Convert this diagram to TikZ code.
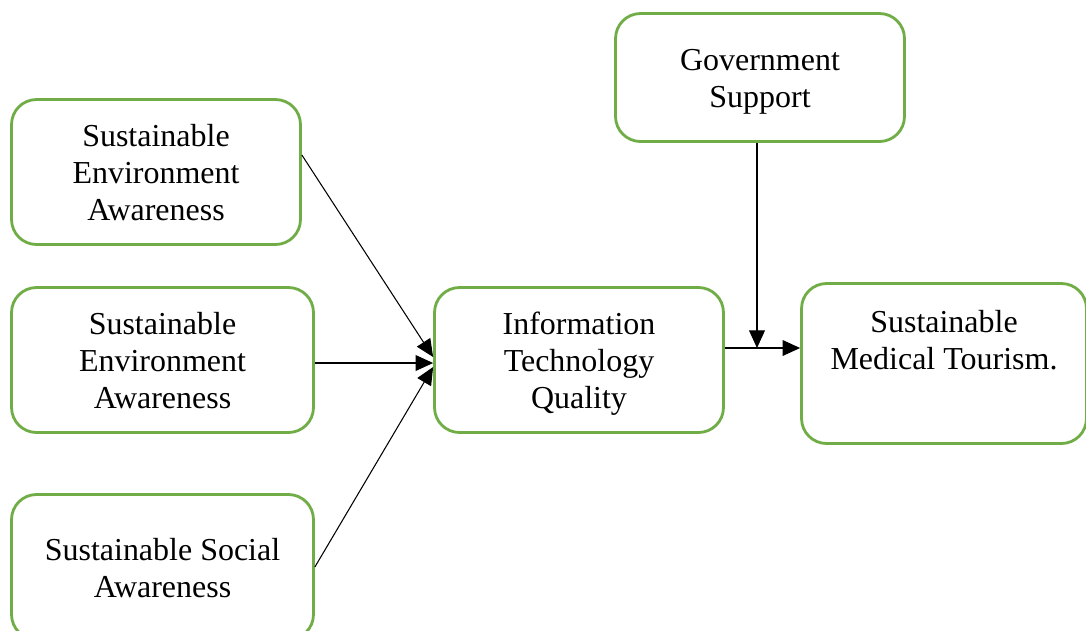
\documentclass[tikz,border=0pt]{standalone}
\usepackage{fontspec}
\setmainfont{Liberation Serif}
\usetikzlibrary{arrows.meta}
\definecolor{boxgreen}{HTML}{70AD47}
\newcommand{\topgap}{\rule{0pt}{18.2pt}}
\newcommand{\botgap}[1][5pt]{\rule[-#1]{0pt}{#1}}

\begin{document}
\begin{tikzpicture}[
    x=0.02cm, y=-0.02cm,
    box/.style={draw=boxgreen,line width=1.6pt,rounded corners=0.5cm,align=center,
      inner sep=0pt,font=\fontsize{18.2}{21}\selectfont},
    link/.style={line width=0.6pt,-{Triangle[length=10pt,width=9pt]}}
    ]
    \useasboundingbox (0,0) rectangle (1086,630);
    \node[box,minimum width=5.78cm,minimum height=2.9cm] (sea1) at (156,172) {\topgap Sustainable\\Environment\\Awareness\botgap};
    \node[box,minimum width=6.04cm,minimum height=2.9cm] (sea2) at (162.5,360) {\topgap Sustainable\\Environment\\Awareness\botgap};
    \node[box,minimum width=6.04cm,minimum height=2.9cm] (ssa) at (162.5,567) {\topgap Sustainable Social\\Awareness\botgap};
    \node[box,minimum width=5.78cm,minimum height=2.9cm] (itq) at (579,360) {\topgap Information\\Technology\\Quality\botgap};
    \node[box,minimum width=5.78cm,minimum height=2.56cm] (gs) at (760,77.5) {\topgap Government\\Support\botgap};
    \node[box,minimum width=5.7cm,minimum height=3.2cm] (smt) at (944,363.5) {\topgap Sustainable\\Medical Tourism.\botgap[32.6pt]};
    \coordinate (j) at (757,348);
    \draw[link] ([yshift=0.34cm]sea1.east) -- ([yshift=0.06cm]itq.west);
    \draw[link] ([yshift=-0.06cm]sea2.east) -- ([yshift=-0.06cm]itq.west);
    \draw[link] (ssa.east) -- ([yshift=-0.14cm]itq.west);
    \draw[link] (j -| itq.east) -- (j -| smt.west);
    \draw[link] (gs.south -| j) -- (j);
\end{tikzpicture}
\end{document}
